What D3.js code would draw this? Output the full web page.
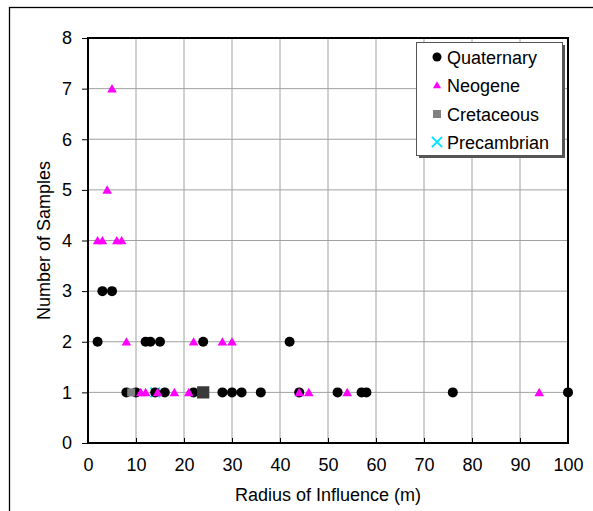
<!DOCTYPE html>
<html><head><meta charset="utf-8">
<script src="https://cdn.jsdelivr.net/npm/d3@7"></script>
<style>body{margin:0;background:#fff}svg{display:block}text{font-family:"Liberation Sans",Arial,sans-serif;fill:#000}</style>
</head><body><svg id="c" width="593" height="511"></svg>
<script>
const xTicks = [0,10,20,30,40,50,60,70,80,90,100];
const yTicks = [0,1,2,3,4,5,6,7,8];
const quatX = [2,3,5,8,10,12,13,14,15,16,22,24,24,28,30,32,36,42,44,52,57,58,76,100];
const quatY = [2,3,3,1,1,2,2,1,2,1,1,2,1,1,1,1,1,2,1,1,1,1,1,1];
const neoX = [2,3,4,5,6,7,8,11,12,14.5,18,21,22,28,30,44,46,54,94];
const neoY = [4,4,5,7,4,4,2,1,1,1,1,1,2,2,2,1,1,1,1];
const cretX = [9,24];
const cretY = [1,1];
const preX = [14];
const preY = [1];
const seriesNames = ["Quaternary","Neogene","Cretaceous","Precambrian"];

const svg = d3.select("#c");
const L=88,R=568,T=38,B=443;
const FS=18;
const x = d3.scaleLinear().domain([0,100]).range([L,R]);
const y = d3.scaleLinear().domain([0,8]).range([B,T]);

svg.append("rect").attr("x",9.5).attr("y",7.5).attr("width",620).attr("height",520)
  .attr("fill","none").attr("stroke","#000").attr("stroke-width",1.3);

svg.append("g").selectAll("line").data(xTicks.slice(1,-1)).join("line")
  .attr("x1",d=>x(d)).attr("x2",d=>x(d)).attr("y1",T).attr("y2",B)
  .attr("stroke","#a0a0a0").attr("stroke-width",1);
svg.append("g").selectAll("line").data(yTicks.slice(1,-1)).join("line")
  .attr("y1",d=>y(d)).attr("y2",d=>y(d)).attr("x1",L).attr("x2",R)
  .attr("stroke","#a0a0a0").attr("stroke-width",1);

const xAxis = d3.axisBottom(x).tickValues(xTicks).tickSize(-5).tickPadding(15);
const gx = svg.append("g").attr("transform",`translate(0,${B})`).call(xAxis);
gx.select(".domain").remove();
gx.selectAll("text").attr("font-size",FS).attr("font-family","Liberation Sans, Arial, sans-serif");
gx.selectAll("line").attr("stroke","#000");
const yAxis = d3.axisLeft(y).tickValues(yTicks).tickSize(6).tickPadding(10);
const gy = svg.append("g").attr("transform",`translate(${L},0)`).call(yAxis);
gy.select(".domain").remove();
gy.selectAll("text").attr("font-size",FS).attr("font-family","Liberation Sans, Arial, sans-serif");
gy.selectAll("line").attr("stroke","#000");

svg.append("rect").attr("x",L).attr("y",T).attr("width",R-L).attr("height",B-T)
  .attr("fill","none").attr("stroke","#000").attr("stroke-width",2);

svg.append("text").attr("x",(L+R)/2).attr("y",501).attr("text-anchor","middle")
  .attr("font-size",FS).text("Radius of Influence (m)");
svg.append("text").attr("transform",`translate(50,${(T+B)/2}) rotate(-90)`).attr("text-anchor","middle")
  .attr("font-size",FS).text("Number of Samples");

const cross = d3.symbol().type(d3.symbolX).size(60);
const tri = d3.symbol().type(d3.symbolTriangle).size(40);
const pts = (xs,ys)=>xs.map((v,i)=>({x:v,y:ys[i]}));

svg.append("g").selectAll("path").data(pts(preX,preY)).join("path")
  .attr("d",cross).attr("transform",d=>`translate(${x(d.x)},${y(d.y)})`)
  .attr("fill","none").attr("stroke","#00e5ff").attr("stroke-width",2);
svg.append("g").selectAll("circle").data(pts(quatX,quatY)).join("circle")
  .attr("cx",d=>x(d.x)).attr("cy",d=>y(d.y)).attr("r",5).attr("fill","#000");
svg.append("g").selectAll("path").data(pts(neoX,neoY)).join("path")
  .attr("d",tri).attr("transform",d=>`translate(${x(d.x)},${y(d.y)+1})`).attr("fill","#ff00ff");
svg.append("g").selectAll("path").data(pts(cretX,cretY)).join("path")
  .attr("d",(d,i)=>d3.symbol().type(d3.symbolSquare).size(i===0?64:150)())
  .attr("transform",d=>`translate(${x(d.x)},${y(d.y)})`)
  .attr("fill",(d,i)=>i===0?"#808080":"#3a3a3a");

const lg = svg.append("g");
lg.append("rect").attr("x",419).attr("y",45).attr("width",146).attr("height",113).attr("fill","#555");
lg.append("rect").attr("x",416.5).attr("y",42.5).attr("width",146).attr("height",113)
  .attr("fill","#fff").attr("stroke","#555").attr("stroke-width",1);
const ly = [57,85,114,142];
lg.append("circle").attr("cx",437).attr("cy",ly[0]).attr("r",4.5).attr("fill","#000");
lg.append("path").attr("d",d3.symbol().type(d3.symbolTriangle).size(28)).attr("transform",`translate(437,${ly[1]+1})`).attr("fill","#ff00ff");
lg.append("rect").attr("x",433).attr("y",ly[2]-4).attr("width",8).attr("height",8).attr("fill","#808080");
lg.append("path").attr("d",d3.symbol().type(d3.symbolX).size(70)).attr("transform",`translate(437,${ly[3]})`)
  .attr("fill","none").attr("stroke","#00e5ff").attr("stroke-width",2);
lg.selectAll("text").data(seriesNames).join("text").attr("x",447).attr("y",(d,i)=>ly[i]+6.5)
  .attr("font-size",FS).text(d=>d);
</script></body></html>
